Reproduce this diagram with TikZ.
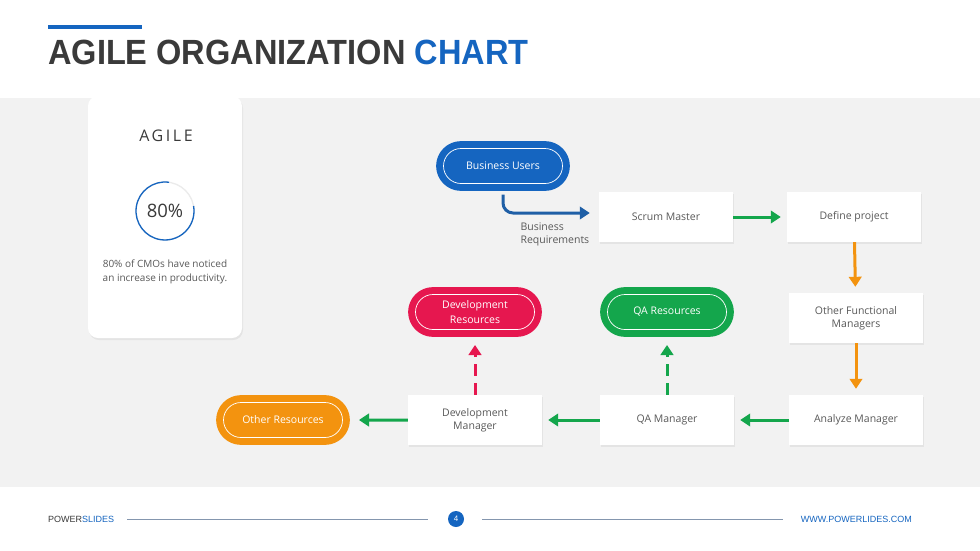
\documentclass[tikz,border=0pt]{standalone}
\usepackage{fontspec}
\setmainfont{Open Sans}
\newfontfamily\titlefont{Liberation Sans}
\usetikzlibrary{positioning, shapes.misc, arrows.meta, shadows, calc}

\definecolor{ppblue}{HTML}{1565C0}
\definecolor{ppdarkblue}{HTML}{1F5FA6}
\definecolor{ppgreen}{HTML}{14A64C}
\definecolor{pporange}{HTML}{F3930F}
\definecolor{ppred}{HTML}{E6174F}
\definecolor{pptext}{HTML}{595959}
\definecolor{ppband}{HTML}{F2F2F2}
\definecolor{pptitle}{HTML}{3A3A3A}
\definecolor{ppline}{HTML}{8496AE}

\tikzset{
	smalltext/.style={font=\fontsize{10.5}{13}\selectfont\color{pptext}}
}
\tikzset{
	box/.style={fill=white, minimum width=134pt, minimum height=50pt, inner sep=2pt,
		align=center, smalltext,
		drop shadow={opacity=0.12, shadow xshift=1pt, shadow yshift=-1.5pt}},
	pill/.style={rounded rectangle, fill=#1, draw=#1, double=white, double distance=0.7pt,
		line width=7pt, minimum width=119pt, minimum height=35pt, inner sep=0pt,
		align=center, font=\fontsize{10.5}{14.5}\selectfont\color{white}},
	flow/.style={draw=#1, line width=3pt, -{Triangle[length=10pt,width=12.5pt]}, shorten >=6pt}
}
\newcommand{\ppsp}[1]{{\addfontfeature{LetterSpace=16}#1}}

\begin{document}
\begin{tikzpicture}[x=1pt, y=-1pt]
	\useasboundingbox (0,0) rectangle (980,550);
	\fill[white] (0,0) rectangle (980,550);
	\fill[ppband] (0,98) rectangle (980,487);

	% title
	\draw[ppblue, line width=4pt] (48,27) -- (142,27);
	\node[anchor=base west, inner sep=0pt, xscale=0.93, transform shape,
		font=\titlefont\bfseries\fontsize{35}{40}\selectfont\color{pptitle}]
		(title) at (48,64) {AGILE ORGANIZATION \textcolor{ppblue}{CHART}};

	% card
	\fill[white, rounded corners=10pt, drop shadow={opacity=0.12, shadow xshift=1pt, shadow yshift=-2pt}]
		(88,96) rectangle (242,338);
	\node[font=\fontsize{16}{18}\selectfont\color{pptitle}] (agile) at (166,136) {\ppsp{AGILE}};
	\coordinate (ringc) at (165,211);
	\draw[black!8, line width=1.3pt] (ringc) circle (29pt);
	\draw[ppblue, line width=1.3pt] (ringc) ++(82:29pt) arc[start angle=82, end angle=370, radius=29pt];
	\node[font=\fontsize{18.5}{20}\selectfont\color{pptitle}] (pct) at (ringc) {80\%};
	\node[font=\fontsize{10}{14}\selectfont\color{pptext}, align=center]
		(cmo) at (165,272) {80\% of CMOs have noticed\\an increase in productivity.};

	% chart
	\node[pill=ppblue] (bu) at (503,166) {Business Users};
	\node[box] (sm) at (666,217) {Scrum Master};
	\node[box] (dp) at (854,217) {Define project};
	\node[box] (ofm) at (856,318) {Other Functional\\Managers};
	\node[box] (am) at (856,420) {Analyze Manager};
	\node[box] (qa) at (667,420) {QA Manager};
	\node[box] (dm) at (475,420) {Development\\Manager};
	\node[pill=pporange] (ores) at (283,420) {Other Resources};
	\node[pill=ppred] (dres) at (475,312) {Development\\Resources};
	\node[pill=ppgreen] (qres) at (667,312) {QA Resources};

	\draw[flow=ppdarkblue, rounded corners=10pt, shorten >=0pt] (bu.south) ++(0,-7.5pt) |- ([xshift=-9pt, yshift=4pt]sm.west);
	\node[smalltext, anchor=north west, align=left] (breq) at (517,219) {Business\\Requirements};
	\draw[flow=ppgreen] (sm) -- (dp);
	\draw[flow=pporange] (dp) -- (ofm);
	\draw[flow=pporange] (ofm) -- (am);
	\draw[flow=ppgreen] (am) -- (qa);
	\draw[flow=ppgreen] (qa) -- (dm);
	\draw[flow=ppgreen, shorten >=13pt] (dm) -- (ores);
	\draw[flow=ppred, dash pattern=on 12pt off 7pt, shorten >=12pt] (dm) -- (dres);
	\draw[flow=ppgreen, dash pattern=on 12pt off 7pt, shorten >=12pt] (qa) -- (qres);

	% footer
	\node[anchor=west, inner sep=0pt, font=\titlefont\fontsize{9}{10}\selectfont\color{pptitle}]
		(brand) at (48,519) {POWER\textcolor{ppblue}{SLIDES}};
	\node[circle, fill=ppblue, minimum size=16pt, inner sep=0pt,
		font=\titlefont\fontsize{8}{9}\selectfont\color{white}] (pg) at (456,519) {4};
	\node[anchor=east, inner sep=0pt, font=\titlefont\fontsize{9}{10}\selectfont\color{ppblue}]
		(url) at (912,519) {WWW.POWERLIDES.COM};
	\draw[ppline, line width=0.9pt] (127,519) -- (428,519);
	\draw[ppline, line width=0.9pt] (482,519) -- (783,519);
\end{tikzpicture}
\end{document}
